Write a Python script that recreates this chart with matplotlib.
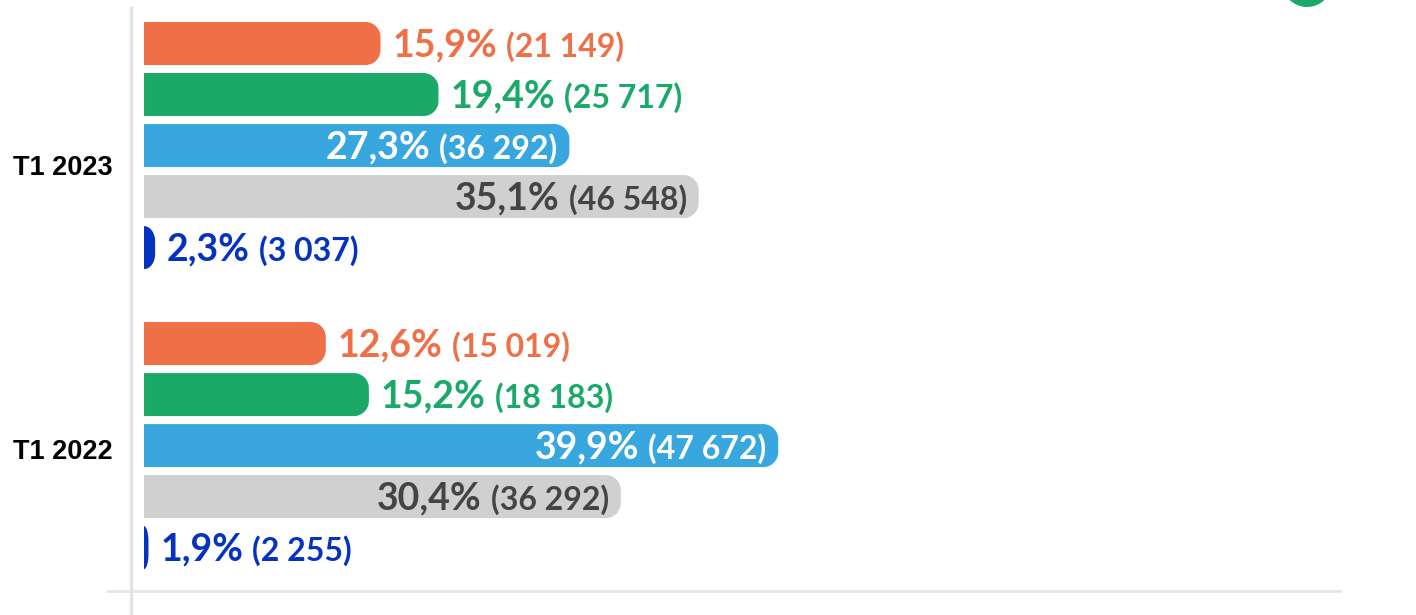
import numpy as np
import matplotlib
matplotlib.use("Agg")
import matplotlib.pyplot as plt
from matplotlib.path import Path
from matplotlib.patches import PathPatch, Circle
from matplotlib.lines import Line2D
from matplotlib.transforms import IdentityTransform, blended_transform_factory

# Data
periods = ['T1 2023', 'T1 2022']
series_colors = ['#EF6F46', '#1BA96A', '#38A7E0', '#D0D0D0', '#0632C0']
text_colors = ['#EF6F46', '#1BA96A', 'white', '#444444', '#0632C0']
label_inside = [False, False, True, True, False]
pct = [
    [15.9, 12.6],
    [19.4, 15.2],
    [27.3, 39.9],
    [35.1, 30.4],
    [2.3, 1.9],
]
counts = [
    [21149, 15019],
    [25717, 18183],
    [36292, 47672],
    [46548, 36292],
    [3037, 2255],
]

W, H = 1416, 615
fig = plt.figure(figsize=(W / 100, H / 100), dpi=100)
ax = fig.add_axes([131 / W, 0, (1340 - 131) / W, 1 - 8 / H])

xmin, xmax = 0.845, 73.8
ax.set_xlim(xmin, xmax)
ax.set_ylim(11.2, -0.696)

bb = ax.get_window_extent()
px_x = bb.width / (xmax - xmin)
px_y = bb.height / (11.2 + 0.696)

group_step = 5.88
bar_h = 0.843
bar_base = 1.63   # bars are cut at the plot edge
radius = 15


def rounded_bar(y, right, color):
    left = bar_base
    h = bar_h / 2
    rx = min(radius / px_x, right - left)
    ry = min(radius / px_y, h)
    k = 0.5523
    verts = [
        (left, y - h),
        (right - rx, y - h),
        (right - rx + k * rx, y - h), (right, y - h + ry - k * ry), (right, y - h + ry),
        (right, y + h - ry),
        (right, y + h - ry + k * ry), (right - rx + k * rx, y + h), (right - rx, y + h),
        (left, y + h),
        (left, y - h),
    ]
    codes = [Path.MOVETO, Path.LINETO,
             Path.CURVE4, Path.CURVE4, Path.CURVE4,
             Path.LINETO,
             Path.CURVE4, Path.CURVE4, Path.CURVE4,
             Path.LINETO, Path.CLOSEPOLY]
    ax.add_patch(PathPatch(Path(verts, codes), facecolor=color, edgecolor='none', zorder=2))


renderer = fig.canvas.get_renderer()
font = 'Lato'
big, small = 27, 23

for g in range(len(periods)):
    for i in range(len(pct)):
        y = g * group_step + i
        v = pct[i][g]
        rounded_bar(y, v, series_colors[i])
        p_txt = f"{v:.1f}%".replace('.', ',')
        c_txt = "(" + f"{counts[i][g]:,}".replace(',', ' ') + ")"
        yb = y + 13 / px_y
        col = text_colors[i]
        if label_inside[i]:
            x_end = v - 12 / px_x
            t2 = ax.text(x_end, yb, c_txt, ha='right', va='baseline', fontsize=small,
                         fontweight='bold', color=col, family=font, zorder=3)
            e = t2.get_window_extent(renderer)
            x1 = ax.transData.inverted().transform((e.x0 - 9, 0))[0]
            ax.text(x1, yb, p_txt, ha='right', va='baseline', fontsize=big,
                    fontweight='bold', color=col, family=font, zorder=3)
        else:
            x0 = v + 12 / px_x
            t1 = ax.text(x0, yb, p_txt, ha='left', va='baseline', fontsize=big,
                         fontweight='bold', color=col, family=font, zorder=3)
            e = t1.get_window_extent(renderer)
            x1 = ax.transData.inverted().transform((e.x1 + 9, 0))[0]
            ax.text(x1, yb, c_txt, ha='left', va='baseline', fontsize=small,
                    fontweight='bold', color=col, family=font, zorder=3)

# period labels
label_nudge = [0.44, 0.13]
for g, name in enumerate(periods):
    ax.text(xmin - 18 / px_x, g * group_step + 2 + label_nudge[g], name,
            ha='right', va='center', fontsize=19.5, fontweight='bold',
            family='Liberation Sans', color='black')

for s in ['top', 'right', 'bottom']:
    ax.spines[s].set_visible(False)
ax.spines['left'].set_color('#E3E3E3')
ax.spines['left'].set_linewidth(2.5)
ax.set_xticks([])
ax.set_yticks([])

# baseline
base_y = 10.72
ax.add_line(Line2D([-0.019, 1], [base_y, base_y], color='#E6E6E6', lw=2,
                   transform=blended_transform_factory(ax.transAxes, ax.transData),
                   clip_on=False))

# green circle top right
fig.add_artist(Circle((1307, H + 18), 25, transform=IdentityTransform(),
                      facecolor='#1BA96A', edgecolor='none'))

fig.savefig('out.png', dpi=100)
